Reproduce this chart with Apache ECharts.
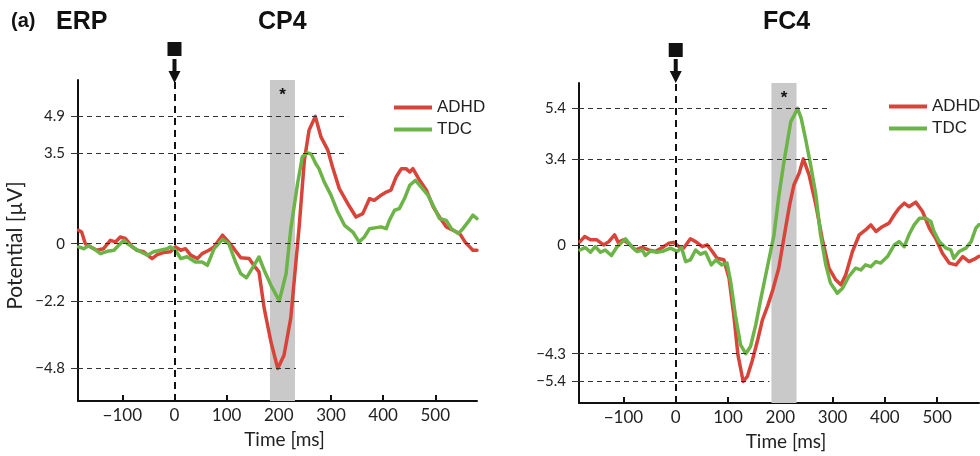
<!DOCTYPE html>
<html>
<head>
<meta charset="utf-8">
<script src="https://cdn.jsdelivr.net/npm/echarts@6/dist/echarts.min.js"></script>
<style>
  html, body { margin: 0; padding: 0; background: #ffffff; }
  #chart { width: 980px; height: 456px; }
</style>
</head>
<body>
<div id="chart"></div>
<script>
// Time axis (ms relative to stimulus onset)
const timeTicks = [-100, 0, 100, 200, 300, 400, 500];
const timeRange = [-185, 580];
// Window with a significant group difference
const sigWindow = [183, 231];

// Grand-average ERP traces, [time ms, potential µV]
const cp4Adhd = [
  [-184, 0.52], [-178, 0.45], [-171, 0.0], [-161, -0.12], [-149, -0.25], [-136, -0.19], [-123, 0.13],
  [-113, 0.07], [-104, 0.26], [-94, 0.2], [-81, -0.12], [-72, -0.25], [-59, -0.31], [-43, -0.57],
  [-33, -0.42], [-21, -0.34], [-8, -0.31], [2, -0.12], [12, -0.25], [21, -0.19], [31, -0.44],
  [44, -0.57], [53, -0.38], [66, -0.25], [76, -0.12], [92, 0.33], [101, 0.13], [114, -0.19],
  [127, -0.54], [143, -0.57], [152, -0.83], [162, -1.08], [172, -2.49], [185, -3.78], [198, -4.8],
  [210, -4.29], [223, -2.85], [239, 0.65], [249, 3.21], [258, 4.37], [270, 4.9], [281, 4.1],
  [294, 3.6], [303, 2.95], [316, 2.12], [332, 1.55], [348, 1.03], [361, 1.16], [374, 1.74],
  [383, 1.67], [396, 1.87], [406, 1.99], [415, 2.06], [425, 2.57], [435, 2.89], [444, 2.89],
  [451, 2.76], [457, 2.89], [470, 2.44], [483, 2.06], [496, 1.42], [508, 1.03], [521, 0.65],
  [534, 0.52], [547, 0.39], [557, 0.07], [566, -0.12], [572, -0.25], [580, -0.25]
];
const cp4Tdc = [
  [-184, -0.12], [-174, -0.19], [-165, -0.08], [-155, -0.19], [-142, -0.38], [-129, -0.29],
  [-116, -0.25], [-107, -0.06], [-97, 0.13], [-88, -0.03], [-75, -0.19], [-65, -0.31], [-52, -0.44],
  [-40, -0.31], [-27, -0.25], [-14, -0.19], [-8, -0.12], [2, -0.25], [12, -0.57], [24, -0.5],
  [40, -0.7], [53, -0.7], [63, -0.83], [76, -0.19], [92, 0.17], [104, 0.0], [117, -0.7],
  [127, -1.15], [138, -1.31], [149, -0.95], [162, -0.51], [172, -1.02], [185, -1.6], [201, -2.2],
  [210, -1.47], [214, -1.15], [223, 0.58], [236, 2.32], [245, 3.34], [255, 3.5], [262, 3.45],
  [271, 3.08], [277, 2.89], [287, 2.38], [300, 1.87], [313, 1.22], [326, 0.71], [342, 0.45],
  [354, 0.07], [364, 0.26], [374, 0.58], [387, 0.62], [396, 0.65], [406, 0.58], [412, 0.9],
  [422, 1.29], [431, 1.35], [441, 1.74], [451, 2.25], [462, 2.44], [473, 2.18], [486, 1.87],
  [499, 1.35], [508, 0.97], [521, 0.9], [531, 0.58], [544, 0.39], [553, 0.58], [563, 0.84],
  [572, 1.1], [580, 0.97]
];
const fc4Adhd = [
  [-183, 0.13], [-174, 0.33], [-163, 0.2], [-151, 0.2], [-138, 0.0], [-128, 0.13], [-117, 0.4],
  [-110, 0.1], [-100, 0.2], [-87, 0.0], [-77, -0.2], [-64, -0.1], [-52, -0.2], [-39, -0.26],
  [-23, -0.07], [-13, 0.07], [-4, 0.1], [6, -0.07], [15, -0.13], [28, 0.24], [38, 0.13],
  [51, -0.07], [60, 0.0], [70, -0.26], [79, -0.53], [92, -0.59], [102, -1.32], [111, -2.77],
  [119, -4.35], [129, -5.4], [137, -5.2], [146, -4.6], [156, -3.82], [166, -2.95], [176, -2.4],
  [186, -1.75], [197, -0.92], [210, 0.66], [218, 1.6], [226, 2.37], [236, 2.83], [244, 3.4],
  [255, 2.77], [268, 1.58], [280, 0.26], [293, -0.92], [306, -1.38], [316, -1.58], [325, -1.19],
  [338, -0.26], [351, 0.4], [363, 0.59], [373, 0.79], [383, 0.53], [395, 0.72], [408, 0.86],
  [418, 1.19], [427, 1.45], [437, 1.65], [446, 1.51], [459, 1.69], [472, 1.32], [485, 0.66],
  [497, 0.26], [510, -0.33], [523, -0.72], [536, -0.79], [549, -0.46], [561, -0.66], [574, -0.53],
  [580, -0.45]
];
const fc4Tdc = [
  [-183, -0.2], [-173, -0.1], [-163, -0.29], [-154, -0.07], [-144, -0.29], [-135, -0.2],
  [-123, -0.42], [-112, -0.07], [-96, 0.24], [-87, 0.0], [-74, -0.26], [-64, -0.2], [-58, -0.42],
  [-48, -0.24], [-36, -0.29], [-23, -0.24], [-10, -0.13], [3, -0.26], [11, -0.1], [19, -0.66],
  [28, -0.59], [38, -0.2], [47, -0.37], [57, -0.29], [68, -0.79], [77, -0.59], [88, -0.79],
  [98, -0.72], [105, -1.45], [114, -2.77], [124, -3.95], [134, -4.3], [143, -4.02], [153, -3.16],
  [162, -2.2], [172, -1.2], [181, -0.3], [188, 0.4], [197, 1.9], [207, 3.29], [220, 4.87],
  [226, 5.1], [233, 5.4], [240, 5.0], [248, 4.22], [258, 3.16], [268, 1.98], [277, 0.4],
  [287, -0.79], [296, -1.51], [309, -1.91], [319, -1.71], [331, -1.25], [344, -0.92], [354, -0.99],
  [363, -0.79], [373, -0.86], [383, -0.66], [392, -0.72], [405, -0.46], [418, 0.0], [427, 0.13],
  [437, -0.07], [446, 0.4], [456, 0.79], [466, 1.05], [479, 1.05], [488, 0.92], [494, 0.53],
  [504, 0.13], [517, -0.13], [526, -0.2], [532, -0.53], [542, -0.26], [555, -0.13], [565, 0.13],
  [574, 0.66], [580, 0.8]
];

// Reference levels marked on each panel, and the time where each guide stops
const cp4Levels = [4.9, 3.5, 0, -2.2, -4.8];
const cp4LevelEnds = [333, 333, 580, 240, 233];
const fc4Levels = [5.4, 3.4, 0, -4.3, -5.4];
const fc4LevelEnds = [296, 296, 580, 179, 179];

// Potential axis ranges (µV)
const cp4Range = [-6.05, 6.3];
const fc4Range = [-6.25, 6.4];

const groupNames = ['ADHD', 'TDC'];
const panelTitles = ['CP4', 'FC4'];

const RED = '#d8443a';
const GREEN = '#6cb447';
const INK = '#111111';
const LABEL_FONT = 'Lato, "Noto Sans", sans-serif';
const TITLE_FONT = '"Liberation Sans", Arial, sans-serif';

const signed = v => (v < 0 ? '\u2212' + Math.abs(v) : String(v));
const arrowPath = 'path://M4,0L8,0L8,12L12,12L6,24L0,12L4,12Z';

const panels = [
  { traces: [cp4Adhd, cp4Tdc], levels: cp4Levels, ends: cp4LevelEnds, range: cp4Range,
    grid: { left: 78, top: 80, width: 399, height: 321 }, squareOffset: -31, arrowOffset: -9 },
  { traces: [fc4Adhd, fc4Tdc], levels: fc4Levels, ends: fc4LevelEnds, range: fc4Range,
    grid: { left: 579, top: 83, width: 400, height: 320 }, squareOffset: -33, arrowOffset: -12 }
];

const grids = [], xAxes = [], yAxes = [], series = [];

panels.forEach((p, i) => {
  grids.push(Object.assign({ containLabel: false }, p.grid));

  xAxes.push({
    type: 'value', gridIndex: i, min: timeRange[0], max: timeRange[1],
    axisLine: { show: true, onZero: false, lineStyle: { color: INK, width: 2 } },
    axisTick: { show: true, inside: true, length: 6, customValues: timeTicks,
      lineStyle: { color: INK, width: 2 } },
    axisLabel: { customValues: timeTicks, formatter: signed, fontFamily: LABEL_FONT,
      fontSize: 17, color: '#222', margin: 6 },
    splitLine: { show: false },
    name: 'Time [ms]', nameLocation: 'middle', nameGap: 29,
    nameTextStyle: { fontFamily: LABEL_FONT, fontSize: 19, color: '#222', padding: [0, 0, 0, 14] }
  });

  yAxes.push({
    type: 'value', gridIndex: i, min: p.range[0], max: p.range[1],
    axisLine: { show: true, onZero: false, lineStyle: { color: INK, width: 2 } },
    axisTick: { show: true, length: 7, customValues: p.levels, lineStyle: { color: '#333', width: 1 } },
    axisLabel: { customValues: p.levels, formatter: signed, fontFamily: LABEL_FONT,
      fontSize: 15, color: '#222', margin: 13 },
    splitLine: { show: false },
    name: i === 0 ? 'Potential [\u00b5V]' : '', nameLocation: 'middle', nameRotate: 90, nameGap: 52,
    nameTextStyle: { fontFamily: LABEL_FONT, fontSize: 21, color: '#222', padding: [0, 10, 0, 0] }
  });

  // Guides, significance window and stimulus marker
  const guideLines = p.levels.map((v, k) => [
    { coord: [timeRange[0], v] },
    { coord: [p.ends[k], v] }
  ]);
  guideLines.push({ xAxis: 0, lineStyle: { type: [7, 5], width: 2, color: INK } });

  series.push({
    type: 'line', name: 'guides' + i, xAxisIndex: i, yAxisIndex: i, data: [], z: 1, silent: true,
    markArea: {
      silent: true,
      itemStyle: { color: '#c9c9c9' },
      label: { show: true, position: 'insideTop', formatter: '*', distance: 7,
        fontSize: 17, fontWeight: 'bold', color: INK, fontFamily: TITLE_FONT },
      data: [[{ xAxis: sigWindow[0] }, { xAxis: sigWindow[1] }]]
    },
    markLine: {
      silent: true, symbol: 'none', label: { show: false }, animation: false,
      lineStyle: { type: [5, 4], width: 1, color: '#333' },
      data: guideLines
    },
    markPoint: {
      silent: true, label: { show: false }, animation: false,
      data: [
        { coord: [0, p.range[1]], symbol: 'rect', symbolSize: 14, symbolOffset: [0, p.squareOffset],
          itemStyle: { color: INK } },
        { coord: [0, p.range[1]], symbol: arrowPath, symbolSize: [12, 24], symbolOffset: [0, p.arrowOffset],
          itemStyle: { color: INK } }
      ]
    }
  });

  p.traces.forEach((trace, g) => {
    series.push({
      type: 'line', name: groupNames[g], xAxisIndex: i, yAxisIndex: i, data: trace,
      showSymbol: false, z: 3 + g, silent: true,
      lineStyle: { width: 3.5, color: g === 0 ? RED : GREEN, join: 'round', cap: 'round' },
      itemStyle: { color: g === 0 ? RED : GREEN }
    });
  });
});

const titleStyle = size => ({ fontFamily: TITLE_FONT, fontWeight: 'bold', fontSize: size, color: INK });

const legendBase = {
  data: groupNames, orient: 'vertical', icon: 'rect', itemWidth: 38, itemHeight: 4, itemGap: 5,
  selectedMode: false,
  textStyle: { fontFamily: TITLE_FONT, fontSize: 17, color: '#222', lineHeight: 17 }
};

const chart = echarts.init(document.getElementById('chart'), null, { renderer: 'canvas' });
chart.setOption({
  animation: false,
  backgroundColor: '#ffffff',
  title: [
    { text: '(a)', left: 6, top: 6, textStyle: titleStyle(20) },
    { text: 'ERP', left: 51, top: 5, textStyle: titleStyle(25) },
    { text: panelTitles[0], left: 253, top: 5, textStyle: titleStyle(25) },
    { text: panelTitles[1], left: 758, top: 5, textStyle: titleStyle(25) }
  ],
  legend: [
    Object.assign({ left: 389, top: 94 }, legendBase),
    Object.assign({ left: 884, top: 93 }, legendBase)
  ],
  grid: grids,
  xAxis: xAxes,
  yAxis: yAxes,
  series: series
});
</script>
</body>
</html>
